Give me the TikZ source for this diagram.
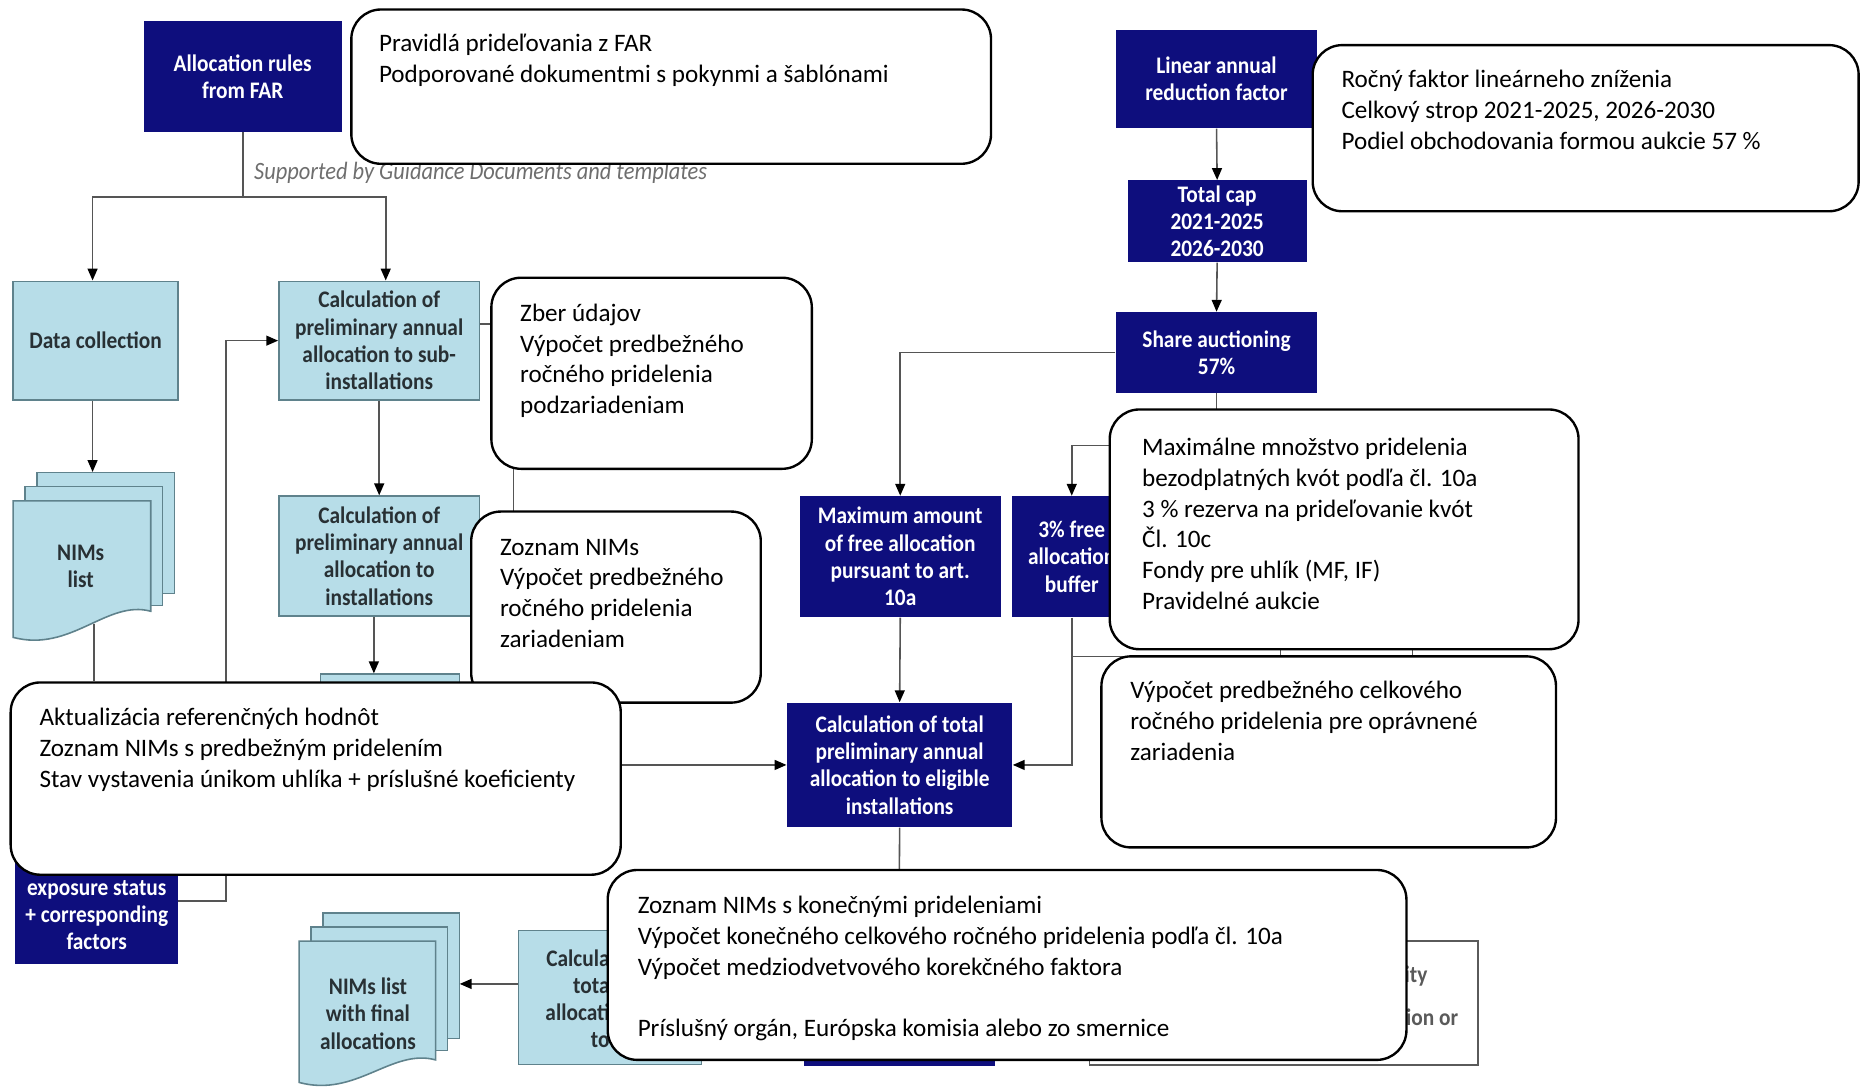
\documentclass[tikz,border=0pt]{standalone}
\usepackage{fontspec}
\setmainfont{Carlito}
\newfontfamily\condfam[FakeStretch=0.9]{Carlito}
\usetikzlibrary{arrows.meta,calc}
\definecolor{navy}{RGB}{14,14,125}
\definecolor{lightblue}{RGB}{183,221,232}
\definecolor{lbborder}{RGB}{95,130,140}
\definecolor{boxtext}{RGB}{40,48,52}
\definecolor{linegrey}{RGB}{85,85,85}
\definecolor{suppgrey}{RGB}{110,110,110}
\definecolor{wbgrey}{RGB}{90,90,90}
\pgfdeclarelayer{fg}
\pgfsetlayers{main,fg}
\newcommand\boxfont{\condfam\bfseries\fontsize{12}{13.8}\selectfont}
\newcommand\calfont{\fontsize{12.7}{15.6}\selectfont}
\newcommand\fl{\rule{0pt}{11pt}}
\tikzset{
  darkbox/.style={fill=navy, text=white, font=\boxfont, align=center, inner sep=0pt},
  lightbox/.style={draw=lbborder, line width=0.8pt, fill=lightblue, text=boxtext, font=\boxfont, align=center, inner sep=0pt},
  docpage/.style={draw=lbborder, line width=0.8pt, fill=lightblue},
  callout/.style={draw=black, line width=1.2pt, fill=white, rounded corners=15pt, inner sep=0pt},
  calltext/.style={font=\calfont, anchor=north west, align=left, inner sep=0pt, text=black},
  line/.style={draw=linegrey, line width=0.8pt},
  arr/.style={line, -{Triangle[length=6pt,width=5pt,color=black]}},
  ghost/.style={inner sep=0pt, draw=none},
}
\begin{document}
\begin{tikzpicture}[x=0.6pt,y=-0.6pt]
\useasboundingbox (0,0) rectangle (1568,917);

% ---------- left column boxes ----------
\node[darkbox, minimum width=100.2pt, minimum height=55.8pt] (alloc) at (204.5,64.5) {Allocation rules\\from FAR};
\node[text=suppgrey, inner sep=0pt, font=\condfam\itshape\fontsize{12.6}{14}\selectfont] (supp) at (405,146) {Supported by Guidance Documents and templates};
\node[lightbox, minimum width=83.4pt, minimum height=60pt] (datacol) at (80.5,287) {Data collection};
\node[lightbox, minimum width=101.4pt, minimum height=60pt] (calcsub) at (319.5,287) {Calculation of\\preliminary annual\\allocation to sub-\\installations};
\node[lightbox, minimum width=101.4pt, minimum height=60.6pt] (calcinst) at (319.5,468.5) {Calculation of\\preliminary annual\\allocation to\\installations};
\node[lightbox, minimum width=70.2pt, minimum height=67.2pt] (hidbox) at (328.5,624) {};
\node[darkbox, minimum width=82.2pt, minimum height=63.6pt] (expo) at (81.5,759) {};
\node[text=white, font=\boxfont, align=center, inner sep=0pt] (expotxt) at (81.5,771) {exposure status\\+ corresponding\\factors};

% NIMs list stack
\node[ghost, minimum width=81.6pt, minimum height=85.2pt] (nims) at (79,469) {};
\path[docpage] (31,398) rectangle (147,500);
\path[docpage] (21,410) rectangle (137,510);
\path[docpage] (11,422) -- (127,422) -- (127,515) .. controls (90,505) and (60,550) .. (11,537) -- cycle;
\node[text=boxtext, font=\boxfont, align=center, inner sep=0pt] (nimstxt) at (68,477) {NIMs\\list};

% NIMs final stack
\node[ghost, minimum width=81pt, minimum height=88.8pt] (nimsf) at (319.5,843) {};
\path[docpage] (272,769) rectangle (387,875);
\path[docpage] (262,781) rectangle (377,885);
\path[docpage] (252,793) -- (367,793) -- (367,893) .. controls (330,883) and (300,925) .. (252,912) -- cycle;
\node[text=boxtext, font=\boxfont, align=center, inner sep=0pt] (nimsftxt) at (310,854) {NIMs list\\with final\\allocations};

\node[lightbox, minimum width=92.4pt, minimum height=67.8pt] (calcfinal) at (514,840.5) {};
\node[anchor=east, align=right, inner sep=0pt, text=boxtext, font=\boxfont] (calcfinaltxt) at (514,841.5) {Calcula\\tota\\allocati\\to\hspace{4pt}};

% ---------- right column ----------
\node[darkbox, minimum width=102pt, minimum height=49.8pt] (linear) at (1025,66.5) {Linear annual\\reduction factor};
\node[darkbox, minimum width=90.6pt, minimum height=41.4pt, font=\condfam\bfseries\fontsize{12}{13.5}\selectfont] (totalcap) at (1025.5,186.5) {Total cap\\2021-2025\\2026-2030};
\node[darkbox, minimum width=102pt, minimum height=40.8pt] (share) at (1025,297) {Share auctioning\\57\%};
\node[darkbox, minimum width=101.4pt, minimum height=61.2pt] (maxamt) at (758.5,469) {Maximum amount\\of free allocation\\pursuant to art.\\10a};
\node[darkbox, minimum width=60pt, minimum height=61.2pt] (buffer) at (903,469) {3\% free\\allocation\\buffer};
\node[darkbox, minimum width=114pt, minimum height=63pt] (calctotal) at (758,644.5) {Calculation of total\\preliminary annual\\allocation to eligible\\installations};
\node[darkbox, minimum width=96.6pt, minimum height=76.8pt] (hiddark) at (757.5,834) {};
\node[draw=wbgrey, line width=0.9pt, fill=white, minimum width=196.2pt, minimum height=62.4pt, inner sep=0pt] (whitebox) at (1081.5,845) {};
\node[anchor=east, inner sep=0pt, text=wbgrey, font=\boxfont] (wb1) at (1203,822) {ity};
\node[anchor=east, inner sep=0pt, text=wbgrey, font=\boxfont] (wb2) at (1229,857) {ion or};

% ---------- callouts (on top) ----------
\begin{pgfonlayer}{fg}
\node[callout, minimum width=323.4pt, minimum height=78pt] (c1) at (565.5,73) {};
\node[calltext] (t1) at (319,25) {\fl Pravidlá prideľovania z FAR\\Podporované dokumentmi s pokynmi a šablónami};
\node[callout, minimum width=162pt, minimum height=96.6pt] (c2) at (549,314.5) {};
\node[calltext] (t2) at (438,252) {\fl Zber údajov\\Výpočet predbežného\\ročného pridelenia\\podzariadeniam};
\node[callout, minimum width=146.4pt, minimum height=96.6pt] (c3) at (519,511.5) {};
\node[calltext] (t3) at (421,449) {\fl Zoznam NIMs\\Výpočet predbežného\\ročného pridelenia\\zariadeniam};
\node[callout, minimum width=308.4pt, minimum height=97.2pt] (c4) at (266,656) {};
\node[calltext] (t4) at (33,593) {\fl Aktualizácia referenčných hodnôt\\Zoznam NIMs s predbežným pridelením\\Stav vystavenia únikom uhlíka + príslušné koeficienty};
\node[callout, minimum width=276pt, minimum height=84pt] (c5) at (1336,108) {};
\node[calltext] (t5) at (1130,55) {\fl Ročný faktor lineárneho zníženia\\Celkový strop 2021-2025, 2026-2030\\Podiel obchodovania formou aukcie 57~\%};
\node[callout, minimum width=237pt, minimum height=121.2pt] (c6) at (1132.5,446) {};
\node[calltext] (t6) at (962,365) {\fl Maximálne množstvo pridelenia\\bezodplatných kvót podľa čl. 10a\\3~\% rezerva na prideľovanie kvót\\Čl. 10c\\Fondy pre uhlík (MF, IF)\\Pravidelné aukcie};
\node[callout, minimum width=229.8pt, minimum height=96.6pt] (c7) at (1119.5,633.5) {};
\node[calltext] (t7) at (952,570) {\fl Výpočet predbežného celkového\\ročného pridelenia pre oprávnené\\zariadenia};
\node[callout, minimum width=403.8pt, minimum height=96pt] (c8) at (848.5,813) {};
\node[calltext] (t8) at (537,751) {\fl Zoznam NIMs s konečnými prideleniami\\Výpočet konečného celkového ročného pridelenia podľa čl. 10a\\Výpočet medziodvetvového korekčného faktora\\[15.6pt]Príslušný orgán, Európska komisia alebo zo smernice};
\end{pgfonlayer}

% ---------- connectors ----------
\coordinate (j1) at (204.5,166);
\draw[line] (alloc.south) -- (j1);
\draw[arr] (j1) -| ([xshift=-1.5pt]datacol.north);
\draw[arr] (j1) -| ([xshift=3.3pt]calcsub.north);
\draw[arr] ([xshift=-1.5pt]datacol.south) -- ([xshift=-1.5pt]datacol.south |- nims.north);
\draw[line] ([yshift=9pt]nims.south) -- (nims.south |- c4.north);
\draw[arr] (expo.east) -- ++(40,0) |- (calcsub.west);
\draw[line] ([yshift=8.4pt]calcsub.east) -- ++(28,0) -- ++(0,300);
\draw[arr] (calcsub.south) -- (calcinst.north);
\draw[arr] ([xshift=-2.7pt]calcinst.south) -- ([xshift=-2.7pt]calcinst.south |- hidbox.north);
\draw[arr] (c4.east |- calctotal.west) -- (calctotal.west);
\draw[arr] (linear.south) -- (totalcap.north);
\draw[arr] (totalcap.south) -- (share.north);
\draw[arr] (share.west) -| (maxamt.north);
\draw[arr] (share.south) -- ++(0,44) -| (buffer.north);
\draw[arr] (maxamt.south) -- (calctotal.north);
\draw[arr] (buffer.south) |- (calctotal.east);
\coordinate (j2) at (903,553);
\coordinate (h1) at (1079,515);
\coordinate (h2) at (1190,515);
\draw[line] (h1) |- (j2);
\draw[line] (h2) |- (j2);
\draw[line] (calctotal.south) -- (hiddark.north);
\draw[arr] ([yshift=6.9pt]calcfinal.west) -- ([yshift=6.9pt]calcfinal.west -| nimsf.east);
\end{tikzpicture}
\end{document}
